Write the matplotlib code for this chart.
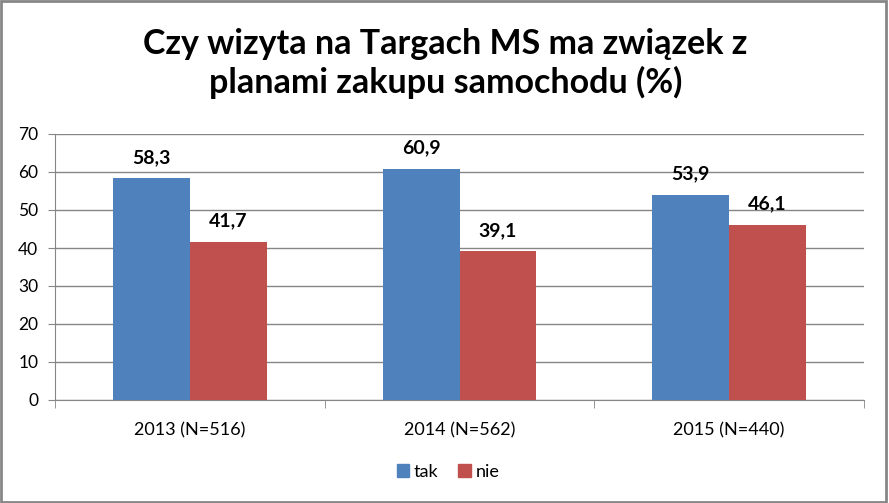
import numpy as np
import matplotlib.pyplot as plt
from matplotlib.patches import Rectangle, Patch

# data
categories = ['2013 (N=516)', '2014 (N=562)', '2015 (N=440)']
tak = [58.3, 60.9, 53.9]
nie = [41.7, 39.1, 46.1]
series_names = ['tak', 'nie']
title = 'Czy wizyta na Targach MS ma związek z\nplanami zakupu samochodu (%)'

blue = '#4F81BD'
red = '#C0504D'
grid_col = '#868686'

plt.rcParams['font.family'] = ['Lato', 'DejaVu Sans']

fig = plt.figure(figsize=(8.89, 5.03), dpi=100)
ax = fig.add_axes([55/889, 1 - 400/503, (864-55)/889, (400-134)/503])

x = np.arange(len(categories))
w = 0.2855
b1 = ax.bar(x - w/2, tak, w, color=blue, zorder=3)
b2 = ax.bar(x + w/2, nie, w, color=red, zorder=3)

for bars in (b1, b2):
    for r in bars:
        v = r.get_height()
        ax.annotate(('%.1f' % v).replace('.', ','),
                    (r.get_x() + r.get_width()/2, v),
                    xytext=(0, 9), textcoords='offset points',
                    ha='center', va='bottom', fontsize=14, fontweight='bold')

ax.set_xlim(-0.5, 2.5)
ax.set_ylim(0, 70)
ax.set_yticks(range(0, 71, 10))
ax.yaxis.grid(True, color=grid_col, linewidth=1)
ax.set_axisbelow(True)
ax.tick_params(axis='y', length=5, color=grid_col, pad=7, labelsize=12.5)

ax.set_xticks(x)
ax.set_xticklabels(categories)
ax.tick_params(axis='x', which='major', length=0, pad=16, labelsize=13)
ax.set_xticks([-0.5, 0.5, 1.5, 2.5], minor=True)
ax.tick_params(axis='x', which='minor', length=6, color=grid_col)

for s in ['top', 'right']:
    ax.spines[s].set_visible(False)
for s in ['left', 'bottom']:
    ax.spines[s].set_color(grid_col)

fig.text(0.501, 1 - 28/503, title, ha='center', va='top',
         fontsize=24.5, fontweight='bold', linespacing=1.22)

handles = [Patch(color=blue), Patch(color=red)]
fig.legend(handles, series_names, loc='center', bbox_to_anchor=(448/889, 1 - 472/503),
           ncol=2, frameon=False, fontsize=13, handlelength=0.7, handleheight=0.7,
           handletextpad=0.25, columnspacing=1.1)

# outer chart border
fig.patches.append(Rectangle((0.001, 0.002), 0.996, 0.996, transform=fig.transFigure,
                             fill=False, edgecolor=grid_col, linewidth=2))

fig.savefig('out.png', dpi=100)
